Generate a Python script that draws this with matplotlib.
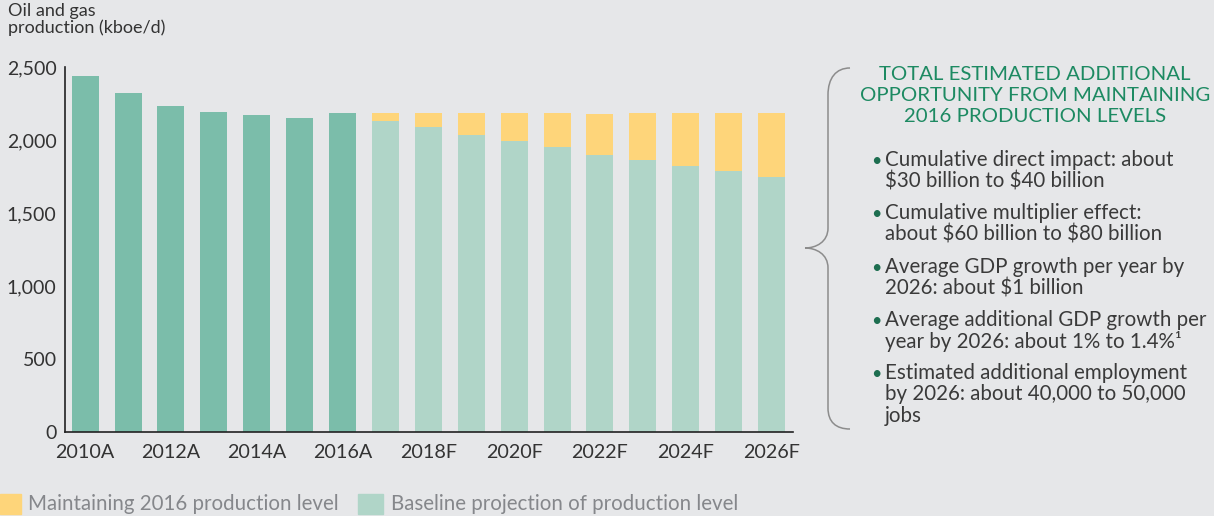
import matplotlib
matplotlib.use('Agg')
import matplotlib.pyplot as plt
from matplotlib.patches import PathPatch, Rectangle
from matplotlib.path import Path
from matplotlib.ticker import FuncFormatter
import numpy as np

plt.rcParams['font.family'] = ['Lato', 'DejaVu Sans']

# data (kboe/d)
years_actual = ['2010A', '2011A', '2012A', '2013A', '2014A', '2015A', '2016A']
actual = [2435, 2320, 2230, 2190, 2170, 2150, 2185]
years_fcst = ['2017F', '2018F', '2019F', '2020F', '2021F', '2022F', '2023F', '2024F', '2025F', '2026F']
baseline = [2130, 2090, 2035, 1990, 1950, 1900, 1860, 1820, 1785, 1745]
maintained = [2185, 2185, 2185, 2185, 2185, 2178, 2185, 2185, 2185, 2185]
tick_labels = ['2010A', '2012A', '2014A', '2016A', '2018F', '2020F', '2022F', '2024F', '2026F']

panel_title = ['TOTAL ESTIMATED ADDITIONAL', 'OPPORTUNITY FROM MAINTAINING', '2016 PRODUCTION LEVELS']
bullets = [
    ['Cumulative direct impact: about', r'\$30 billion to \$40 billion'],
    ['Cumulative multiplier effect:', r'about \$60 billion to \$80 billion'],
    ['Average GDP growth per year by', r'2026: about \$1 billion'],
    ['Average additional GDP growth per', 'year by 2026: about 1% to 1.4%\u00b9'],
    ['Estimated additional employment', 'by 2026: about 40,000 to 50,000', 'jobs'],
]

BG = '#e6e7e9'
DARK = '#7bbdaa'
LIGHT = '#b0d5c8'
YELLOW = '#fed57a'
W, H = 1214, 516

def fx(px): return px / W
def fy(py): return 1 - py / H

fig = plt.figure(figsize=(W / 100, H / 100), dpi=100, facecolor=BG)
ax = fig.add_axes([fx(65), fy(432), fx(793) - fx(65), fy(67) - fy(432)])
ax.set_facecolor(BG)

xa = np.arange(len(actual))
xf = np.arange(len(actual), len(actual) + len(baseline))
bw = 0.63
ax.bar(xa, actual, width=bw, color=DARK, zorder=2)
ax.bar(xf, baseline, width=bw, color=LIGHT, zorder=2)
gap = np.array(maintained) - np.array(baseline)
ax.bar(xf, gap, bottom=baseline, width=bw, color=YELLOW, zorder=2)

ax.set_xlim(-0.47, 16.5)
ax.set_ylim(0, 2500)
ax.set_yticks([0, 500, 1000, 1500, 2000, 2500])
ax.yaxis.set_major_formatter(FuncFormatter(lambda v, p: f'{int(v):,}'))
all_years = years_actual + years_fcst
ax.set_xticks([all_years.index(t) for t in tick_labels])
ax.set_xticklabels(tick_labels)
ax.tick_params(length=0, labelsize=14, colors='#333333', pad=6)
ax.tick_params(axis='x', labelsize=14.2, pad=9)
for s in ['top', 'right']:
    ax.spines[s].set_visible(False)
for s in ['left', 'bottom']:
    ax.spines[s].set_color('#222222')
    ax.spines[s].set_linewidth(1.2)

fig.text(fx(8), fy(3), 'Oil and gas\nproduction (kboe/d)', ha='left', va='top',
         fontsize=13, color='#333333', linespacing=1.0)

# legend
fig.patches.append(Rectangle((fx(0), fy(514)), fx(21), fy(494) - fy(514),
                             transform=fig.transFigure, color=YELLOW))
fig.text(fx(28), fy(504), 'Maintaining 2016 production level', ha='left', va='center',
         fontsize=14.8, color='#85878b')
fig.patches.append(Rectangle((fx(358), fy(514)), fx(25), fy(494) - fy(514),
                             transform=fig.transFigure, color=LIGHT))
fig.text(fx(391), fy(504), 'Baseline projection of production level', ha='left', va='center',
         fontsize=14.8, color='#85878b')

# brace
verts = [(850, 68), (836, 68), (828, 78), (828, 95),
         (828, 228),
         (828, 242), (816, 248), (805, 248),
         (816, 248), (828, 254), (828, 268),
         (828, 408),
         (828, 422), (836, 429), (850, 429)]
codes = [Path.MOVETO, Path.CURVE4, Path.CURVE4, Path.CURVE4,
         Path.LINETO,
         Path.CURVE4, Path.CURVE4, Path.CURVE4,
         Path.CURVE4, Path.CURVE4, Path.CURVE4,
         Path.LINETO,
         Path.CURVE4, Path.CURVE4, Path.CURVE4]
brace = Path([(fx(x), fy(y)) for x, y in verts], codes)
fig.patches.append(PathPatch(brace, transform=fig.transFigure, facecolor='none',
                             edgecolor='#8c8c8c', lw=1.1))

# panel title, one line at a time
for i, ln in enumerate(panel_title):
    fig.text(fx(1035), fy(74 + i * 21.5), ln, ha='center', va='center', fontsize=14.7,
             color='#1d8a62')

starts = [160, 213, 267, 320, 373]
step = 21.5
for y0, lines in zip(starts, bullets):
    fig.text(fx(876), fy(y0 + 1), '\u2022', ha='center', va='center', fontsize=13, color='#1d6e50')
    for i, ln in enumerate(lines):
        fig.text(fx(885), fy(y0 + i * step), ln, ha='left', va='center', fontsize=14.8, color='#3a3a3a')

fig.savefig('out.png', dpi=100, facecolor=BG)
